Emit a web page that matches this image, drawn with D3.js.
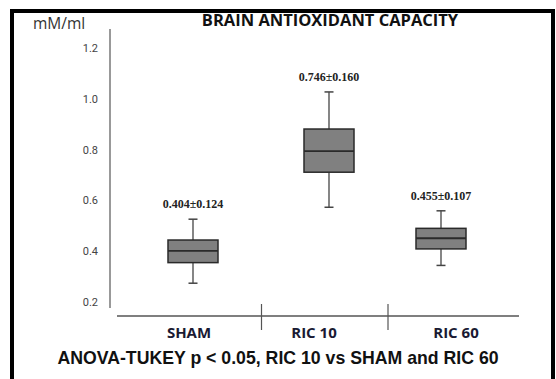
<!DOCTYPE html>
<html><head><meta charset="utf-8">
<script src="https://cdn.jsdelivr.net/npm/d3@7"></script>
<style>html,body{margin:0;padding:0;background:#fff;}</style>
</head><body>
<script>
const categories = ["SHAM", "RIC 10", "RIC 60"];
const whiskerLow = [0.274, 0.573, 0.344];
const q1 = [0.355, 0.711, 0.409];
const median = [0.401, 0.794, 0.451];
const q3 = [0.444, 0.881, 0.490];
const whiskerHigh = [0.526, 1.027, 0.559];
const meanLabels = ["0.404\u00b10.124", "0.746\u00b10.160", "0.455\u00b10.107"];
const yTicks = [0.2, 0.4, 0.6, 0.8, 1.0, 1.2];

const W = 556, H = 379;
const svg = d3.select("body").append("svg").attr("width", W).attr("height", H);

// frame
svg.append("rect").attr("x", 12).attr("y", 11).attr("width", 541).attr("height", 380)
  .attr("fill", "#fff").attr("stroke", "#000").attr("stroke-width", 4);

const y = d3.scaleLinear().domain([0.2, 1.2]).range([302, 48]);
const xBox = d3.scaleOrdinal().domain(categories).range([193, 329, 441]);
const xLab = d3.scaleOrdinal().domain(categories).range([189, 314, 456]);
const boxW = 50, capW = 9;

// y axis
svg.append("line").attr("x1", 110).attr("x2", 110).attr("y1", 29).attr("y2", 308)
  .attr("stroke", "#555").attr("stroke-width", 1.2);
svg.selectAll(".yt").data(yTicks).enter().append("text")
  .attr("x", 98).attr("y", d => y(d) + 4)
  .attr("text-anchor", "end").attr("font-family", "Roboto, Arial, sans-serif")
  .attr("font-size", 11).attr("fill", "#444").text(d => d.toFixed(1));

svg.append("text").attr("x", 33).attr("y", 29).attr("font-family", "'Open Sans', Arial, sans-serif")
  .attr("font-size", 15.5).attr("fill", "#333").text("mM/ml");

// title
svg.append("text").attr("x", 330).attr("y", 26).attr("text-anchor", "middle")
  .attr("font-family", "'Open Sans', Lato, sans-serif").attr("font-weight", "bold")
  .attr("font-size", 16.5).attr("fill", "#111").text("BRAIN ANTIOXIDANT CAPACITY");

// x axis
svg.append("line").attr("x1", 117).attr("x2", 519).attr("y1", 316).attr("y2", 316)
  .attr("stroke", "#555").attr("stroke-width", 1.5);
const seps = [categories[0], categories[1]];
svg.selectAll(".sep").data(seps).enter().append("line")
  .attr("x1", (d, i) => (xLab(categories[i]) + xLab(categories[i + 1])) / 2 + (i === 0 ? 10 : 3))
  .attr("x2", (d, i) => (xLab(categories[i]) + xLab(categories[i + 1])) / 2 + (i === 0 ? 10 : 3))
  .attr("y1", 304).attr("y2", 330).attr("stroke", "#555").attr("stroke-width", 1.2);

svg.selectAll(".cl").data(categories).enter().append("text")
  .attr("x", d => xLab(d)).attr("y", 338).attr("text-anchor", "middle")
  .attr("font-family", "'Open Sans', Lato, sans-serif").attr("font-weight", "bold")
  .attr("font-size", 15).attr("fill", "#1a1a33").text(d => d);

// boxes
const g = svg.selectAll(".box").data(categories).enter().append("g");
g.append("line").attr("x1", d => xBox(d)).attr("x2", d => xBox(d))
  .attr("y1", (d, i) => y(whiskerHigh[i])).attr("y2", (d, i) => y(q3[i]))
  .attr("stroke", "#444").attr("stroke-width", 1.3);
g.append("line").attr("x1", d => xBox(d)).attr("x2", d => xBox(d))
  .attr("y1", (d, i) => y(q1[i])).attr("y2", (d, i) => y(whiskerLow[i]))
  .attr("stroke", "#444").attr("stroke-width", 1.3);
g.append("line").attr("x1", d => xBox(d) - capW / 2).attr("x2", d => xBox(d) + capW / 2)
  .attr("y1", (d, i) => y(whiskerHigh[i])).attr("y2", (d, i) => y(whiskerHigh[i]))
  .attr("stroke", "#444").attr("stroke-width", 1.5);
g.append("line").attr("x1", d => xBox(d) - capW / 2).attr("x2", d => xBox(d) + capW / 2)
  .attr("y1", (d, i) => y(whiskerLow[i])).attr("y2", (d, i) => y(whiskerLow[i]))
  .attr("stroke", "#444").attr("stroke-width", 1.5);
g.append("rect").attr("x", d => xBox(d) - boxW / 2).attr("width", boxW)
  .attr("y", (d, i) => y(q3[i])).attr("height", (d, i) => y(q1[i]) - y(q3[i]))
  .attr("fill", "#808080").attr("stroke", "#2a2a2a").attr("stroke-width", 1.5);
g.append("line").attr("x1", d => xBox(d) - boxW / 2).attr("x2", d => xBox(d) + boxW / 2)
  .attr("y1", (d, i) => y(median[i])).attr("y2", (d, i) => y(median[i]))
  .attr("stroke", "#2a2a2a").attr("stroke-width", 1.8);
g.append("text").attr("x", d => xBox(d)).attr("y", (d, i) => y(whiskerHigh[i]) - 11)
  .attr("text-anchor", "middle").attr("font-family", "'Liberation Serif', 'Times New Roman', serif")
  .attr("font-weight", "bold").attr("font-size", 12).attr("fill", "#222")
  .text((d, i) => meanLabels[i]);

// footnote
svg.append("text").attr("x", 278).attr("y", 364).attr("text-anchor", "middle")
  .attr("font-family", "'Liberation Sans', Arial, sans-serif").attr("font-weight", "bold")
  .attr("font-size", 17.7).attr("fill", "#111")
  .text("ANOVA-TUKEY p < 0.05, RIC 10 vs SHAM and RIC 60");
</script>
</body></html>
